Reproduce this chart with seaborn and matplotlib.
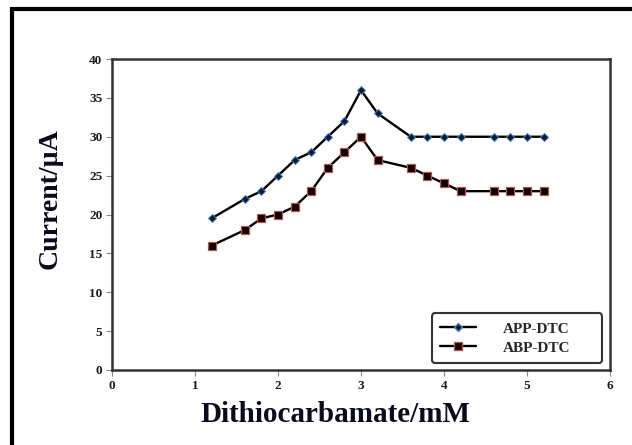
import matplotlib
matplotlib.use("Agg")
import matplotlib.pyplot as plt
import seaborn as sns
import pandas as pd
from matplotlib.lines import Line2D
from matplotlib.patches import Rectangle

# data
conc = [1.2, 1.6, 1.8, 2.0, 2.2, 2.4, 2.6, 2.8, 3.0, 3.2, 3.6, 3.8, 4.0, 4.2, 4.6, 4.8, 5.0, 5.2]
app_dtc = [19.5, 22, 23, 25, 27, 28, 30, 32, 36, 33, 30, 30, 30, 30, 30, 30, 30, 30]
abp_dtc = [16, 18, 19.5, 20, 21, 23, 26, 28, 30, 27, 26, 25, 24, 23, 23, 23, 23, 23]
series_names = ["APP-DTC", "ABP-DTC"]
x_ticks = [0, 1, 2, 3, 4, 5, 6]
y_ticks = [0, 5, 10, 15, 20, 25, 30, 35, 40]

sns.set_theme(style="white")
plt.rcParams['font.family'] = ['Liberation Serif', 'DejaVu Serif']

df_app = pd.DataFrame({"x": conc, "y": app_dtc})
df_abp = pd.DataFrame({"x": conc, "y": abp_dtc})

fig = plt.figure(figsize=(6.32, 4.45), dpi=100)
ax = fig.add_axes([112/632, 75/445, 498/632, 311/445])

sns.lineplot(data=df_app, x="x", y="y", ax=ax, color="black", linewidth=1.7,
             marker="D", markersize=3.8, markerfacecolor="#0a1a30",
             markeredgecolor="#4a7ebb", markeredgewidth=0.7)
sns.lineplot(data=df_abp, x="x", y="y", ax=ax, color="black", linewidth=1.7,
             marker="s", markersize=5.8, markerfacecolor="black",
             markeredgecolor="#c0504d", markeredgewidth=0.9)

ax.set_xlim(0, 6)
ax.set_ylim(0, 40)
ax.set_xticks(x_ticks)
ax.set_yticks(y_ticks)
ax.tick_params(axis="both", which="major", direction="out", length=4, width=0.8,
               color="#888888", labelsize=9.5, pad=3,
               bottom=True, left=True)
for lab in ax.get_xticklabels() + ax.get_yticklabels():
    lab.set_fontweight("bold")
    lab.set_color("#1a1a1a")

for sp in ax.spines.values():
    sp.set_visible(True)
    sp.set_color("#333333")
    sp.set_linewidth(1.8)

ax.set_xlabel("")
ax.set_ylabel("")
fig.text(335/632, 1 - 415/445, "Dithiocarbamate/mM", ha="center", va="center",
         fontsize=21, fontweight="bold", color="#0a0a1e")
fig.text(50/632, 1 - 199/445, "Current/µA", ha="center", va="center",
         rotation=90, fontsize=20, fontweight="bold", color="#0a0a1e")

handles = [
    Line2D([], [], color="black", linewidth=1.7, marker="D", markersize=3.8,
           markerfacecolor="#0a1a30", markeredgecolor="#4a7ebb"),
    Line2D([], [], color="black", linewidth=1.7, marker="s", markersize=5.8,
           markerfacecolor="black", markeredgecolor="#c0504d"),
]
leg = ax.legend(handles, series_names, loc="lower left", mode="expand",
                bbox_to_anchor=(432/632, 1 - 363/445, 170/632, 59/445),
                bbox_transform=fig.transFigure,
                frameon=True, fancybox=True, handlelength=2.3, handletextpad=1.8,
                borderpad=0.55, labelspacing=0.35, borderaxespad=0,
                prop={"family": "Liberation Serif", "weight": "bold", "size": 11})
leg.get_frame().set_edgecolor("#333333")
leg.get_frame().set_linewidth(1.5)
leg.get_frame().set_boxstyle("round", pad=0, rounding_size=0.2)
leg.get_frame().set_alpha(1)

# outer frame
fig.patches.append(Rectangle((12/632, -0.1), 1.2, 1.1 - 9/445, transform=fig.transFigure,
                             fill=False, edgecolor="black", linewidth=3))

fig.savefig("out.png", dpi=100)
